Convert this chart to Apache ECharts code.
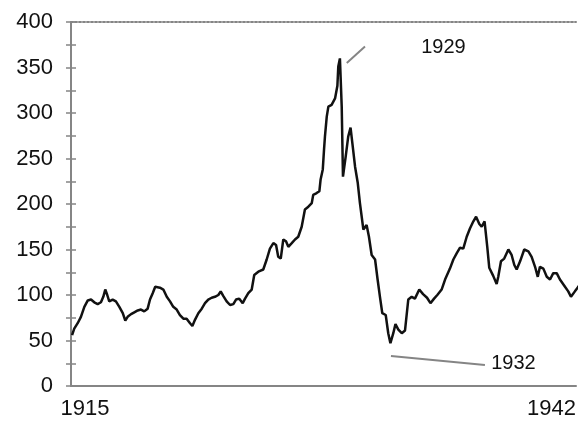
<!DOCTYPE html>
<html>
<head>
<meta charset="utf-8">
<script src="https://cdn.jsdelivr.net/npm/echarts@6/dist/echarts.min.js"></script>
<style>
html,body{margin:0;padding:0;background:#fff;}
#chart{width:582px;height:427px;}
</style>
</head>
<body>
<div id="chart"></div>
<script>
// Decimal years of the traced points
var years = [
1915.06,1915.18,1915.37,1915.55,1915.74,1915.93,
1916.11,1916.29,1916.48,1916.66,1916.79,1916.90,
1917.01,1917.12,1917.31,1917.49,1917.68,1917.87,
1918.01,1918.14,1918.33,1918.51,1918.70,1918.88,
1919.06,1919.25,1919.38,1919.53,1919.67,1919.77,1919.93,
1920.12,1920.31,1920.49,1920.67,1920.86,
1921.04,1921.23,1921.41,1921.60,1921.73,1921.88,
1922.06,1922.25,1922.43,1922.61,1922.80,1922.98,
1923.17,1923.30,1923.44,1923.63,1923.82,
1924.00,1924.15,1924.33,1924.52,1924.65,1924.83,
1925.02,1925.16,1925.42,1925.66,1925.85,
1926.03,1926.22,1926.37,1926.49,1926.63,1926.77,1926.92,
1927.05,1927.24,1927.42,1927.60,1927.79,1927.97,
1928.16,1928.35,1928.43,1928.62,1928.77,1928.84,1928.96,
1929.03,1929.08,1929.18,1929.27,1929.45,1929.64,1929.77,1929.82,1929.91,
1930.01,1930.08,1930.23,1930.37,1930.50,1930.60,1930.75,1930.90,
1931.02,1931.21,1931.39,1931.52,1931.67,1931.86,
1932.00,1932.13,1932.26,1932.45,1932.59,1932.71,1932.87,1932.99,
1933.15,1933.34,1933.52,1933.70,1933.89,
1934.07,1934.31,1934.52,1934.74,1934.93,
1935.13,1935.31,1935.55,1935.74,
1936.01,1936.20,1936.39,1936.57,1936.75,1936.94,
1937.12,1937.31,1937.46,1937.64,1937.77,1937.93,
1938.08,1938.19,1938.41,1938.60,1938.69,1938.84,
1939.02,1939.25,1939.43,1939.58,1939.71,1939.90,
1940.13,1940.36,1940.54,1940.73,1940.88,
1941.00,1941.19,1941.38,1941.56,1941.74,1941.93,
1942.11,1942.39,1942.57,1942.72,1942.94,
1943.13,1943.33
];
// Index values
var values = [
56,63,69,76,87,94,
95,92,90,92,98,106,
100,93,95,93,87,80,
72,76,79,81,83,84,
82,85,95,102,109,111,108,
106,98,93,87,84,
78,74,74,69,66,73,
80,85,91,95,97,98,
100,104,99,93,89,
90,95,96,91,96,102,
106,122,126,128,139,
151,157,155,142,140,161,159,
153,157,161,164,175,194,
197,201,210,212,214,227,238,
260,274,296,307,309,316,330,351,360,
307,230,252,274,284,267,241,223,
201,172,177,164,144,139,
117,98,80,78,58,47,58,68,
62,58,61,95,98,
96,106,101,97,91,
96,100,106,117,
129,139,146,152,151,164,
173,181,186,178,175,181,
153,130,121,112,120,137,
140,150,144,133,128,137,
150,148,142,131,120,
131,129,120,117,124,124,
117,109,104,98,104,
109,117
];
var xTickValues = [1915, 1943];
var xTickLabels = ['1915', '1942'];
// Annotations
var annoTexts = ['1929', '1932'];
var annoTextPos = [[1935.65, 372], [1939.53, 25]];
var annoLines = [
  [[1930.29, 355], [1931.30, 373]],
  [[1932.74, 33], [1937.95, 23]]
];

var data = [];
for (var i = 0; i < Math.min(years.length, values.length); i++) data.push([years[i], values[i]]);

var FONT = "'Liberation Sans', Arial, sans-serif";
var AXC = '#858585';
var TXT = '#111111';

var chart = echarts.init(document.getElementById('chart'), null, {renderer: 'canvas'});
chart.setOption({
  animation: false,
  backgroundColor: '#ffffff',
  grid: {left: 71, right: 6, top: 22, bottom: 41, containLabel: false},
  xAxis: [{
    type: 'value', min: 1915, max: 1943, position: 'bottom',
    axisLine: {show: true, lineStyle: {color: AXC, width: 2}},
    axisTick: {show: false},
    splitLine: {show: false},
    axisLabel: {
      customValues: xTickValues,
      margin: 12,
      color: TXT, fontSize: 22, fontFamily: FONT,
      formatter: function (v) {
        var k = xTickValues.indexOf(v);
        if (k === 0) return '{a|' + xTickLabels[k] + '}';
        return k >= 0 ? xTickLabels[k] : '';
      },
      rich: {a: {padding: [0, 0, 0, 28], fontSize: 22, color: TXT, fontFamily: FONT}},
      alignMaxLabel: 'right'
    }
  }, {
    type: 'value', min: 1915, max: 1943, position: 'top',
    axisLine: {show: true, onZero: false, lineStyle: {color: AXC, width: 2, type: 'dotted'}},
    axisTick: {show: false}, axisLabel: {show: false}, splitLine: {show: false}
  }],
  yAxis: [{
    type: 'value', min: 0, max: 400, interval: 25,
    axisLine: {show: true, lineStyle: {color: AXC, width: 2}},
    axisTick: {show: true, inside: false, length: 5, lineStyle: {color: AXC, width: 1.5}},
    splitLine: {show: false},
    axisLabel: {
      margin: 18, color: TXT, fontSize: 22, fontFamily: FONT,
      formatter: function (v) { return v % 50 === 0 ? String(v) : ''; }
    }
  }, {
    type: 'value', min: 0, max: 400, interval: 25, position: 'left',
    axisLine: {show: false},
    axisTick: {show: true, inside: true, length: 5, lineStyle: {color: AXC, width: 1.5}},
    splitLine: {show: false},
    axisLabel: {show: false}
  }],
  series: [{
    type: 'line',
    data: data,
    clip: false,
    showSymbol: false,
    symbol: 'none',
    lineStyle: {color: '#111', width: 2.5},
    markLine: {
      silent: true,
      symbol: ['none', 'none'],
      label: {show: false},
      lineStyle: {color: '#858585', width: 2, type: 'solid'},
      data: annoLines.map(function (l) { return [{coord: l[0]}, {coord: l[1]}]; })
    },
    markPoint: {
      silent: true,
      symbol: 'rect',
      symbolSize: 1,
      itemStyle: {color: 'rgba(0,0,0,0)'},
      label: {show: true, position: 'inside', color: TXT, fontSize: 20, fontFamily: FONT,
        formatter: function (p) { return p.name; }},
      data: annoTexts.map(function (t, i) { return {name: t, coord: annoTextPos[i]}; })
    }
  }]
});
</script>
</body>
</html>
